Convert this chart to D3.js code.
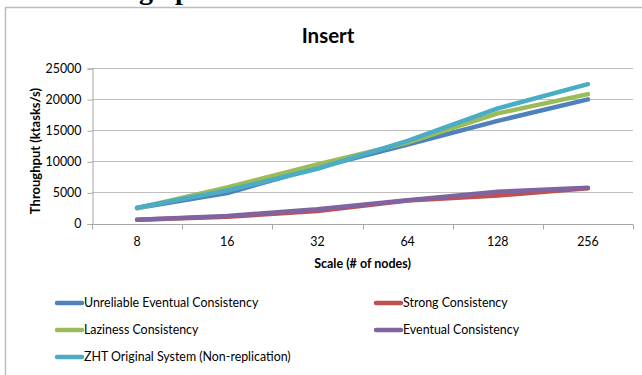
<!DOCTYPE html>
<html><head><meta charset="utf-8">
<script src="https://cdn.jsdelivr.net/npm/d3@7"></script>
<style>body{margin:0;background:#fff;overflow:hidden}svg{display:block}</style>
</head><body>
<svg id="c" width="642" height="375"></svg>
<script>
const categories = ["8","16","32","64","128","256"];
const seriesNames = ["Unreliable Eventual Consistency","Strong Consistency","Laziness Consistency","Eventual Consistency","ZHT Original System (Non-replication)"];
const unreliable = [2500, 4900, 9000, 12700, 16500, 19950];
const strong     = [600, 1100, 2000, 3700, 4500, 5650];
const laziness   = [2450, 5800, 9500, 13000, 17700, 20800];
const eventual   = [600, 1200, 2300, 3750, 5100, 5750];
const zht        = [2550, 5300, 8800, 13300, 18500, 22400];
const yTicks = [0, 5000, 10000, 15000, 20000, 25000];
const colors = ["#4F81BD","#C0504D","#9BBB59","#8064A2","#4BACC6"];
const allSeries = [unreliable, strong, laziness, eventual, zht];

(function(){
const svg = d3.select("#c");
const font = "Lato, 'Open Sans', sans-serif";
const fs = 12.4;

// frame of the chart area
svg.append("path").attr("d","M5.5,375 L5.5,7.5 L642,7.5").attr("fill","none").attr("stroke","#bdbdbd").attr("stroke-width",1.5);

// cut-off document text at top
svg.append("text").attr("x",139).attr("y",-1).attr("font-family","'Liberation Serif', serif").attr("font-weight","bold").attr("font-size",28).text("g");
svg.append("text").attr("x",175).attr("y",-1).attr("font-family","'Liberation Serif', serif").attr("font-weight","bold").attr("font-size",28).text("p");

const pL = 92, pR = 633, pT = 68, pB = 223.5;
const x = d3.scaleBand().domain(categories).range([pL, pR]);
const y = d3.scaleLinear().domain([0, 25000]).range([pB, pT]);

// title
svg.append("text").attr("x",328).attr("y",43).attr("text-anchor","middle").attr("font-family",font).attr("font-weight","bold").attr("font-size",20.5).text("Insert");

// gridlines
svg.append("g").selectAll("line").data(yTicks.filter(d=>d>0)).join("line")
  .attr("x1",pL).attr("x2",pR).attr("y1",d=>Math.round(y(d))+0.5).attr("y2",d=>Math.round(y(d))+0.5)
  .attr("stroke","#bfbfbf").attr("stroke-width",1);

// y axis
const yAxis = d3.axisLeft(y).tickValues(yTicks).tickSize(5).tickPadding(6).tickFormat(d3.format("d"));
const gy = svg.append("g").attr("transform",`translate(${pL+0.5},0.5)`).call(yAxis);
gy.select(".domain").attr("stroke","#a6a6a6");
gy.selectAll(".tick line").attr("stroke","#a6a6a6");
gy.selectAll("text").attr("font-family",font).attr("font-size",fs).attr("fill","#000");

// x axis
const xAxis = d3.axisBottom(x).tickSize(0).tickPadding(13);
const gx = svg.append("g").attr("transform",`translate(0,${Math.round(pB)+0.5})`).call(xAxis);
gx.select(".domain").attr("stroke","#a6a6a6").attr("d",`M${pL},0H${pR}`);
gx.selectAll("text").attr("font-family",font).attr("font-size",fs).attr("fill","#000");
// boundary ticks
const bounds = categories.map(c=>x(c)).concat([pR]);
gx.append("g").selectAll("line").data(bounds).join("line")
  .attr("x1",d=>Math.round(d)+0.5).attr("x2",d=>Math.round(d)+0.5).attr("y1",0).attr("y2",5).attr("stroke","#a6a6a6");

// axis titles
svg.append("text").attr("x",362.5).attr("y",268).attr("text-anchor","middle").attr("font-family",font).attr("font-weight","bold").attr("font-size",12.5).text("Scale (# of nodes)");
svg.append("text").attr("transform","translate(39.5,151) rotate(-90)").attr("text-anchor","middle").attr("font-family",font).attr("font-weight","bold").attr("font-size",13).text("Throughput (ktasks/s)");

// lines
const line = d3.line().x((d,i)=>x(categories[i])+x.bandwidth()/2).y(d=>y(d));
allSeries.forEach((s,k)=>{
  svg.append("path").datum(s).attr("d",line).attr("fill","none").attr("stroke",colors[k])
    .attr("stroke-width",4.5).attr("stroke-linecap","round").attr("stroke-linejoin","round");
});

// legend
const legPos = [[55,303],[374,303],[55,330],[374,330],[55,357]];
seriesNames.forEach((n,k)=>{
  const [lx,ly] = legPos[k];
  svg.append("line").attr("x1",lx+2).attr("x2",lx+27).attr("y1",ly).attr("y2",ly).attr("stroke",colors[k]).attr("stroke-width",4.5).attr("stroke-linecap","round");
  svg.append("text").attr("x",lx+29).attr("y",ly+4.3).attr("font-family",font).attr("font-size",fs).attr("fill","#000").text(n);
});
})();
</script>
</body></html>
